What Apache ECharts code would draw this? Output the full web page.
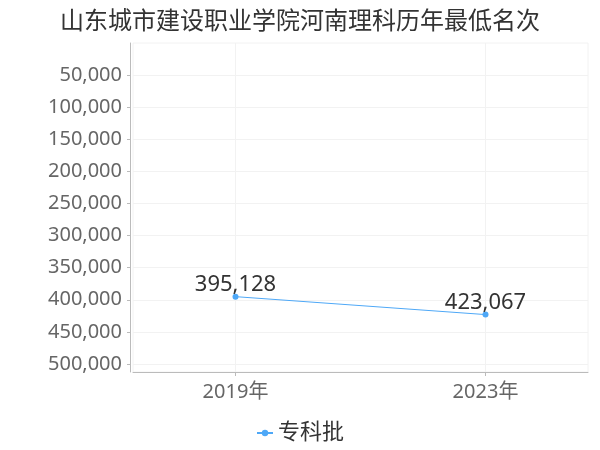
<!DOCTYPE html>
<html>
<head>
<meta charset="utf-8">
<script src="https://cdn.jsdelivr.net/npm/echarts@6/dist/echarts.min.js"></script>
<style>html,body{margin:0;padding:0;background:#fff}#c{width:600px;height:450px}</style>
</head>
<body>
<div id="c"></div>
<script>
const titleText = '山东城市建设职业学院河南理科历年最低名次';
const seriesName = '专科批';
const years = [2019, 2023];
const values = [395128, 423067];
const yTicks = [50000, 100000, 150000, 200000, 250000, 300000, 350000, 400000, 450000, 500000];

const FONT = '"Noto Sans", "Noto Sans CJK SC", sans-serif';
const chart = echarts.init(document.getElementById('c'), null, {renderer: 'canvas'});
chart.setOption({
  animation: false,
  textStyle: {fontFamily: FONT},
  title: {
    text: titleText, left: 'center', top: 5,
    textStyle: {fontSize: 24, fontWeight: 'normal', color: '#333', fontFamily: FONT}
  },
  grid: {left: 133, right: 12, top: 43, bottom: 78, show: true, borderColor: '#f2f2f2', borderWidth: 1},
  legend: {
    bottom: 1, left: 'center', itemWidth: 16, itemHeight: 8, itemGap: 10,
    textStyle: {fontSize: 22, color: '#333', fontFamily: FONT},
    data: [seriesName]
  },
  xAxis: {
    type: 'value', min: 2017.36, max: 2024.64,
    axisLine: {show: true, onZero: false, lineStyle: {color: '#bbb'}},
    axisTick: {show: true, customValues: years, length: 4, lineStyle: {color: '#bbb'}},
    axisLabel: {customValues: years, formatter: v => v + '年', fontSize: 20, color: '#666', margin: 10, fontFamily: FONT},
    splitLine: {show: true, lineStyle: {color: '#f2f2f2'}}
  },
  yAxis: {
    type: 'value', inverse: true, min: 0, max: 512500, offset: 3,
    axisLine: {show: true, lineStyle: {color: '#bbb'}},
    axisTick: {show: true, customValues: yTicks, length: 3, lineStyle: {color: '#bbb'}},
    axisLabel: {customValues: yTicks, fontSize: 20, color: '#666', margin: 8, fontFamily: FONT,
      formatter: v => v.toLocaleString('en-US')},
    splitLine: {show: true, lineStyle: {color: '#f2f2f2'}}
  },
  series: [{
    name: seriesName, type: 'line',
    data: years.map((y, i) => [y, values[i]]),
    symbol: 'circle', symbolSize: 6,
    itemStyle: {color: '#4ea8f7'},
    lineStyle: {width: 1, color: '#4ea8f7'},
    label: {show: true, position: 'top', distance: -2, fontSize: 22, color: '#333', fontFamily: FONT,
      formatter: p => p.value[1].toLocaleString('en-US')}
  }]
});
</script>
</body>
</html>
